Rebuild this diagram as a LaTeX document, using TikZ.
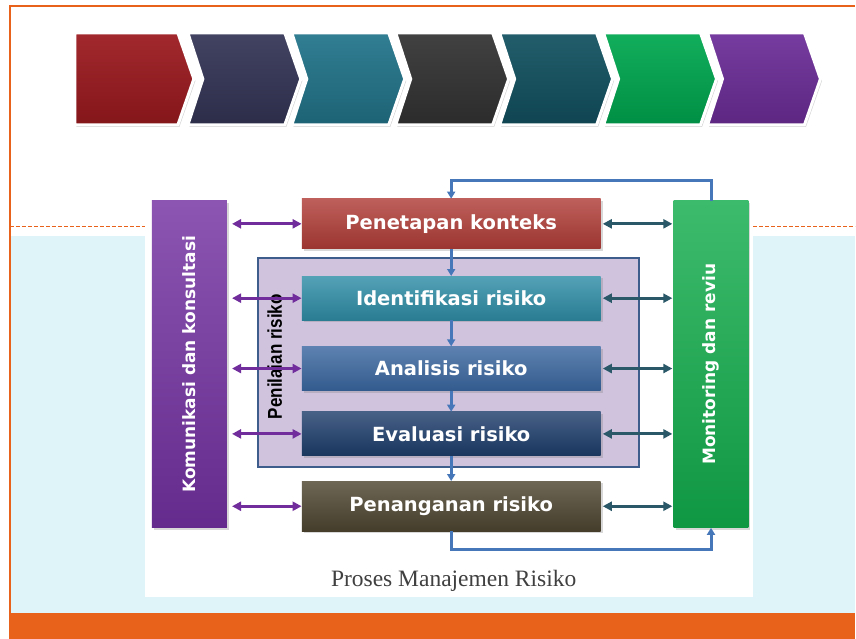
\documentclass[tikz,border=0pt]{standalone}
\usepackage{fontspec}
\usepackage{tikz}
\usetikzlibrary{shapes,arrows,arrows.meta,positioning,fit,calc,shadows}
\newfontfamily\boxfont{DejaVu Sans}[BoldFont={DejaVu Sans Bold}]
\newfontfamily\labelfont{Liberation Sans}[BoldFont={Liberation Sans Bold}]
\newfontfamily\captionfont{Liberation Serif}
\definecolor{slideorange}{RGB}{232,98,28}
\definecolor{slidecyan}{RGB}{223,244,249}
\definecolor{chred}{RGB}{155,25,30}
\definecolor{chnavy}{RGB}{52,53,86}
\definecolor{chteal}{RGB}{34,116,138}
\definecolor{chgray}{RGB}{51,51,51}
\definecolor{chpetrol}{RGB}{18,81,96}
\definecolor{chgreen}{RGB}{0,168,80}
\definecolor{chpurple}{RGB}{108,45,152}
\definecolor{boxred}{RGB}{176,60,55}
\definecolor{boxteal}{RGB}{46,141,166}
\definecolor{boxblue}{RGB}{58,103,160}
\definecolor{boxnavy}{RGB}{30,61,107}
\definecolor{boxolive}{RGB}{78,69,48}
\definecolor{barpurple}{RGB}{114,48,160}
\definecolor{bargreen}{RGB}{18,172,76}
\definecolor{assessfill}{RGB}{207,195,222}
\definecolor{assessline}{RGB}{62,92,140}
\definecolor{linkpurple}{RGB}{112,45,155}
\definecolor{linkteal}{RGB}{43,88,104}
\definecolor{flowblue}{RGB}{70,120,185}

\begin{document}
\begin{tikzpicture}[x=1pt, y=-1pt,
    tone/.style={top color=#1!82!white, middle color=#1, bottom color=#1!88!black},
    flat/.style={top color=#1!93!white, middle color=#1, bottom color=#1!85!black},
    chev/.style={draw=white, line width=3pt, drop shadow={shadow xshift=1.5pt, shadow yshift=-2pt, opacity=0.35}},
    box/.style={rectangle, minimum width=299pt, minimum height=44pt, text=white, font=\boxfont\bfseries\fontsize{19.5}{22}\selectfont, drop shadow={shadow xshift=2pt, shadow yshift=-2pt, opacity=0.3}},
    bar/.style={rectangle, minimum width=75pt, minimum height=327pt, drop shadow={shadow xshift=2pt, shadow yshift=-2pt, opacity=0.3}},
    vtext/.style={rotate=90, text=white, font=\boxfont\bfseries\fontsize{17}{20}\selectfont},
    frame/.style={rectangle, draw=assessline, line width=2pt, fill=assessfill, inner sep=0pt},
    link/.style={{Triangle[length=9pt,width=9pt]}-{Triangle[length=9pt,width=9pt]}, line width=2.8pt},
    flow/.style={-{Triangle[length=7pt,width=8pt]}, line width=3pt, draw=flowblue}
]
    \fill[white] (0,0) rectangle (856,639);
    \fill[slidecyan] (10,236) rectangle (856,613);
    \fill[slideorange] (9,613) rectangle (856,639);
    \draw[slideorange, line width=1.2pt] (10,613) -- (10,6) -- (856,6);
    \draw[slideorange, line width=0.8pt, dash pattern=on 4pt off 2pt] (10,227) -- (856,227);
    \fill[white] (145,165) rectangle (754,597);

    \foreach \c/\l/\r/\n in {chred/75/178/0, chnavy/188/285/15, chteal/292/389/15, chgray/396/493/15,
                             chpetrol/500/597/15, chgreen/604/701/15, chpurple/708/805/15}
        \draw[chev, flat=\c] (\l,33) -- (\r,33) -- ({\r+16},79) -- (\r,125) -- (\l,125) -- ({\l+\n},79) -- cycle;

    \node[frame, fit={(258,258) (639,467)}] (asm) {};
    \node[rotate=90, font=\labelfont\bfseries\fontsize{20}{22}\selectfont] (nilai) at (275,357) {\scalebox{0.85}[1]{Penilaian risiko}};

    \node[box, tone=boxred, minimum height=50pt] (pen) at (451.5,224) {Penetapan konteks};
    \node[box, tone=boxteal, below=27pt of pen] (ide) {Identifikasi risiko};
    \node[box, tone=boxblue, below=26pt of ide] (ana) {Analisis risiko};
    \node[box, tone=boxnavy, below=21pt of ana] (eva) {Evaluasi risiko};
    \node[box, tone=boxolive, minimum height=50pt, below=25pt of eva] (pnt) {Penanganan risiko};

    \node[bar, tone=barpurple] (kom) at (189.5,364.5) {};
    \node[vtext] (komtxt) at (kom) {Komunikasi dan konsultasi};
    \node[bar, tone=bargreen] (mon) at (711.5,364.5) {};
    \node[vtext] (montxt) at (mon) {Monitoring dan reviu};

    \foreach \b in {pen,ide,ana,eva,pnt} {
        \draw[link, linkpurple, shorten <=5pt] (kom.east |- \b) -- (\b.west);
        \draw[link, linkteal, shorten <=2pt, shorten >=1pt] (\b.east) -- (mon.west |- \b);
    }

    \coordinate (back) at (451.5,181);
    \coordinate (out) at (451.5,550);
    \draw[flow] (pen) -- (ide);
    \draw[flow] (ide) -- (ana);
    \draw[flow] (ana) -- (eva);
    \draw[flow] (eva) -- (pnt);
    \draw[flow] (mon.north) |- (back) -- (pen.north);
    \draw[flow] (pnt.south) -- (out) -| (mon.south);

    \node[font=\captionfont\fontsize{23.5}{26}\selectfont, text=black!75] (cap) at (454,581) {Proses Manajemen Risiko};
\end{tikzpicture}
\end{document}
